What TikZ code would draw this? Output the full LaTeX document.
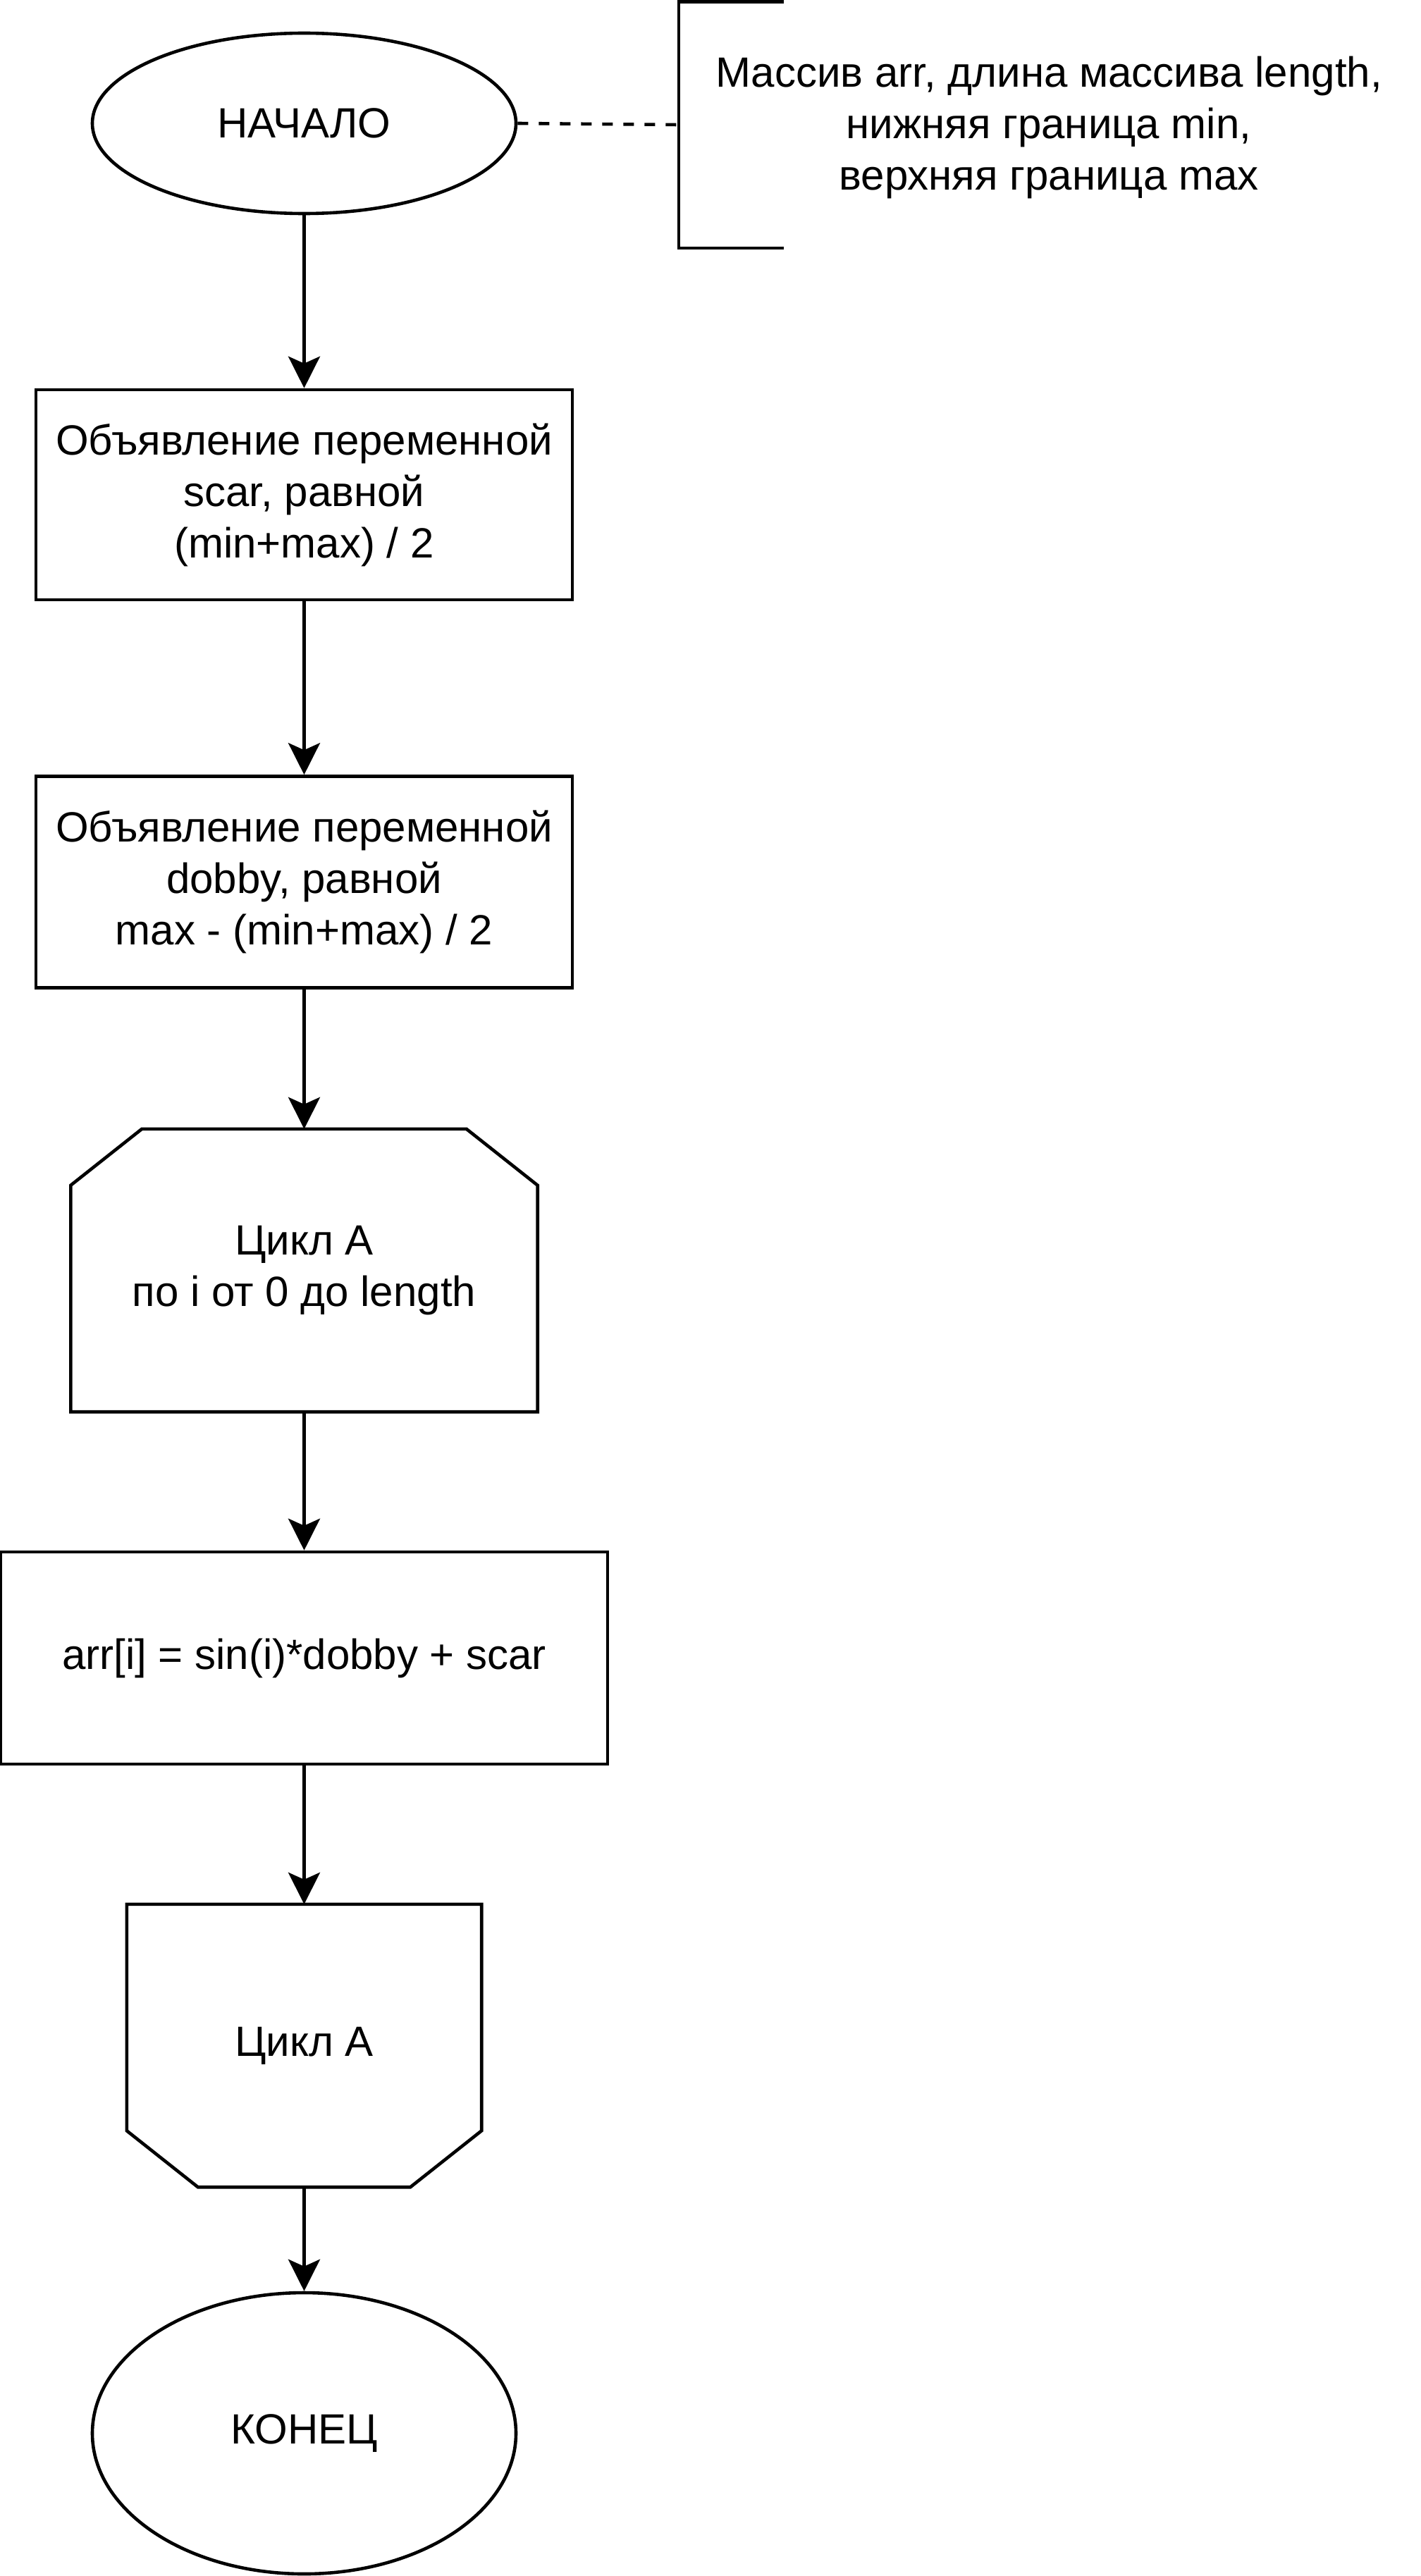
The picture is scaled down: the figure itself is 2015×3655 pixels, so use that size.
\documentclass[tikz,border=0pt]{standalone}
\usepackage{fontspec}
\setmainfont{Liberation Sans}
\usetikzlibrary{shapes.geometric,arrows.meta}
\begin{document}
\begin{tikzpicture}[x=1pt,y=-1pt,
  every node/.style={font=\fontsize{60pt}{73pt}\selectfont, align=center, inner sep=0pt},
  shapeline/.style={line width=4.6pt, line join=miter},
  procbox/.style={draw, shapeline, rectangle},
  terminal/.style={draw, shapeline, ellipse},
  arrowline/.style={line width=4.6pt, -{Stealth[length=45pt,width=45pt,inset=10pt]}},
  noteline/.style={line width=4.6pt, dash pattern=on 15pt off 15pt}
]
\fill[white] (0,0) rectangle (2015,3655);
\useasboundingbox (0,0) rectangle (2015,3655);

% start
\node[terminal, minimum width=601pt, minimum height=256pt] (start) at (431.5,175) {НАЧАЛО};

% annotation
\node (note) at (1488,181) {Массив arr, длина массива length,\\нижняя граница min,\\верхняя граница max};
\coordinate (brk) at (963,177);
\draw[shapeline] (1112,2.5) -- (963,2.5) -- (963,352) -- (1112,352);
\draw[noteline] (start.east) -- (brk);

% box1
\node[procbox, minimum width=761pt, minimum height=298pt] (b1) at (431.5,702) {Объявление переменной\\scar, равной\\(min+max) / 2};

% box2
\node[procbox, minimum width=761pt, minimum height=300pt] (b2) at (431.5,1251.5) {Объявление переменной\\dobby, равной\\max - (min+max) / 2};

% loop start
\node[minimum width=662pt, minimum height=401pt] (ls) at (431.5,1802.5) {Цикл А\\по i от 0 до length};
\draw[shapeline] ([xshift=101pt]ls.north west) -- ([xshift=-101pt]ls.north east) -- ([yshift=-80pt]ls.north east) -- (ls.south east) -- (ls.south west) -- ([yshift=-80pt]ls.north west) -- cycle;

% box3
\node[procbox, minimum width=861pt, minimum height=301pt] (b3) at (431.5,2352.5) {arr[i] = sin(i)*dobby + scar};

% loop end
\node[minimum width=503pt, minimum height=401pt] (le) at (431.5,2902.5) {Цикл А};
\draw[shapeline] (le.north west) -- (le.north east) -- ([yshift=80pt]le.south east) -- ([xshift=-101pt]le.south east) -- ([xshift=101pt]le.south west) -- ([yshift=80pt]le.south west) -- cycle;

% end
\node[terminal, minimum width=601pt, minimum height=399pt] (end) at (431.5,3452.5) {КОНЕЦ};

% arrows
\draw[arrowline] (start.south) -- (b1.north);
\draw[arrowline] (b1.south) -- (b2.north);
\draw[arrowline] (b2.south) -- (ls.north);
\draw[arrowline] (ls.south) -- (b3.north);
\draw[arrowline] (b3.south) -- (le.north);
\draw[arrowline] (le.south) -- (end.north);
\end{tikzpicture}
\end{document}
